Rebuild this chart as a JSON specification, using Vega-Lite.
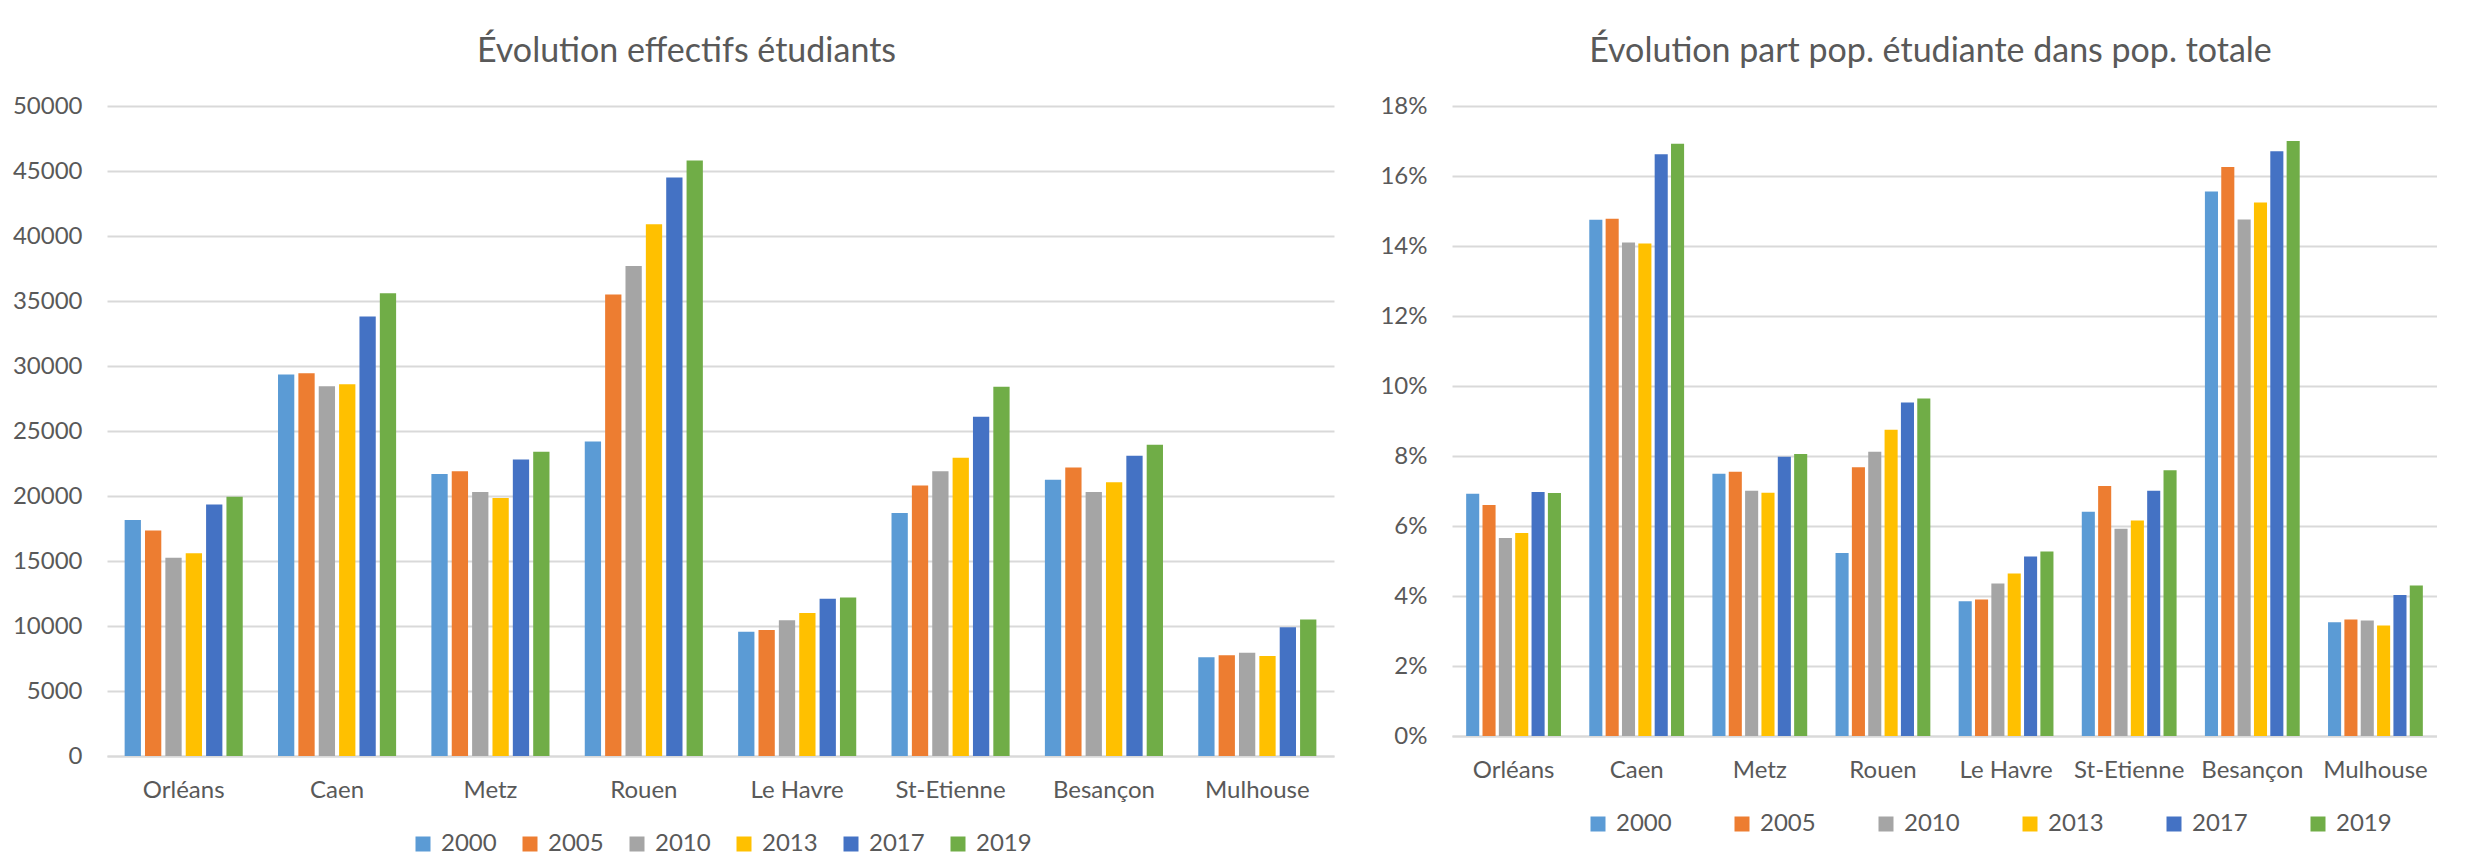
{
  "$schema": "https://vega.github.io/schema/vega-lite/v6.json",
  "padding": {"left": 12, "top": 35, "right": 0, "bottom": 0},
  "background": "white",
  "spacing": 45,
  "config": {
    "font": "Lato",
    "view": {"stroke": null},
    "axis": {"labelFont": "Lato", "labelFontSize": 24, "labelColor": "#595959", "ticks": false, "domain": false, "gridColor": "#D9D9D9", "gridWidth": 2, "title": null},
    "axisX": {"domain": true, "domainColor": "#D9D9D9", "domainWidth": 2, "grid": false, "labelAngle": 0, "labelPadding": 22},
    "axisY": {"labelPadding": 25},
    "title": {"font": "Lato", "fontSize": 34, "fontWeight": "normal", "color": "#595959", "anchor": "middle", "offset": 25},
    "legend": {"symbolType": "square", "symbolSize": 225, "symbolStrokeWidth": 0, "labelFont": "Lato", "labelFontSize": 24, "labelColor": "#595959", "labelOffset": 6, "padding": 0, "title": null}
  },
  "data": {"values": [
    {"ville": "Orléans", "annee": "2000", "effectif": 18150, "part": 0.0692},
    {"ville": "Orléans", "annee": "2005", "effectif": 17350, "part": 0.0660},
    {"ville": "Orléans", "annee": "2010", "effectif": 15250, "part": 0.0566},
    {"ville": "Orléans", "annee": "2013", "effectif": 15600, "part": 0.0580},
    {"ville": "Orléans", "annee": "2017", "effectif": 19350, "part": 0.0697},
    {"ville": "Orléans", "annee": "2019", "effectif": 19950, "part": 0.0694},
    {"ville": "Caen", "annee": "2000", "effectif": 29350, "part": 0.1475},
    {"ville": "Caen", "annee": "2005", "effectif": 29450, "part": 0.1478},
    {"ville": "Caen", "annee": "2010", "effectif": 28450, "part": 0.1410},
    {"ville": "Caen", "annee": "2013", "effectif": 28600, "part": 0.1407},
    {"ville": "Caen", "annee": "2017", "effectif": 33800, "part": 0.1662},
    {"ville": "Caen", "annee": "2019", "effectif": 35600, "part": 0.1692},
    {"ville": "Metz", "annee": "2000", "effectif": 21700, "part": 0.0749},
    {"ville": "Metz", "annee": "2005", "effectif": 21900, "part": 0.0755},
    {"ville": "Metz", "annee": "2010", "effectif": 20300, "part": 0.0701},
    {"ville": "Metz", "annee": "2013", "effectif": 19850, "part": 0.0695},
    {"ville": "Metz", "annee": "2017", "effectif": 22800, "part": 0.0798},
    {"ville": "Metz", "annee": "2019", "effectif": 23400, "part": 0.0806},
    {"ville": "Rouen", "annee": "2000", "effectif": 24200, "part": 0.0523},
    {"ville": "Rouen", "annee": "2005", "effectif": 35500, "part": 0.0768},
    {"ville": "Rouen", "annee": "2010", "effectif": 37700, "part": 0.0812},
    {"ville": "Rouen", "annee": "2013", "effectif": 40900, "part": 0.0875},
    {"ville": "Rouen", "annee": "2017", "effectif": 44500, "part": 0.0953},
    {"ville": "Rouen", "annee": "2019", "effectif": 45800, "part": 0.0964},
    {"ville": "Le Havre", "annee": "2000", "effectif": 9550, "part": 0.0385},
    {"ville": "Le Havre", "annee": "2005", "effectif": 9700, "part": 0.0390},
    {"ville": "Le Havre", "annee": "2010", "effectif": 10450, "part": 0.0436},
    {"ville": "Le Havre", "annee": "2013", "effectif": 11000, "part": 0.0464},
    {"ville": "Le Havre", "annee": "2017", "effectif": 12100, "part": 0.0513},
    {"ville": "Le Havre", "annee": "2019", "effectif": 12200, "part": 0.0527},
    {"ville": "St-Etienne", "annee": "2000", "effectif": 18700, "part": 0.0641},
    {"ville": "St-Etienne", "annee": "2005", "effectif": 20800, "part": 0.0714},
    {"ville": "St-Etienne", "annee": "2010", "effectif": 21900, "part": 0.0592},
    {"ville": "St-Etienne", "annee": "2013", "effectif": 22950, "part": 0.0616},
    {"ville": "St-Etienne", "annee": "2017", "effectif": 26100, "part": 0.0701},
    {"ville": "St-Etienne", "annee": "2019", "effectif": 28400, "part": 0.0759},
    {"ville": "Besançon", "annee": "2000", "effectif": 21250, "part": 0.1556},
    {"ville": "Besançon", "annee": "2005", "effectif": 22200, "part": 0.1626},
    {"ville": "Besançon", "annee": "2010", "effectif": 20300, "part": 0.1476},
    {"ville": "Besançon", "annee": "2013", "effectif": 21050, "part": 0.1524},
    {"ville": "Besançon", "annee": "2017", "effectif": 23100, "part": 0.1671},
    {"ville": "Besançon", "annee": "2019", "effectif": 23950, "part": 0.1700},
    {"ville": "Mulhouse", "annee": "2000", "effectif": 7600, "part": 0.0325},
    {"ville": "Mulhouse", "annee": "2005", "effectif": 7750, "part": 0.0333},
    {"ville": "Mulhouse", "annee": "2010", "effectif": 7950, "part": 0.0330},
    {"ville": "Mulhouse", "annee": "2013", "effectif": 7700, "part": 0.0316},
    {"ville": "Mulhouse", "annee": "2017", "effectif": 9900, "part": 0.0403},
    {"ville": "Mulhouse", "annee": "2019", "effectif": 10500, "part": 0.0430}
  ]},
  "resolve": {"scale": {"color": "independent", "y": "independent", "x": "independent", "xOffset": "independent"}, "legend": {"color": "independent"}},
  "hconcat": [
    {
      "width": 1227,
      "height": 650,
      "title": {"text": "Évolution effectifs étudiants", "dx": -34},
      "mark": {"type": "bar"},
      "encoding": {
        "x": {"field": "ville", "type": "nominal", "sort": ["Orléans", "Caen", "Metz", "Rouen", "Le Havre", "St-Etienne", "Besançon", "Mulhouse"], "scale": {"paddingInner": 0.23, "paddingOuter": 0.115}},
        "xOffset": {"field": "annee", "type": "nominal", "scale": {"paddingInner": 0.2}},
        "y": {"field": "effectif", "type": "quantitative", "scale": {"domain": [0, 50000]}, "axis": {"values": [0, 5000, 10000, 15000, 20000, 25000, 30000, 35000, 40000, 45000, 50000], "format": "d"}},
        "color": {"field": "annee", "type": "nominal", "scale": {"domain": ["2000", "2005", "2010", "2013", "2017", "2019"], "range": ["#5B9BD5", "#ED7D31", "#A5A5A5", "#FFC000", "#4472C4", "#70AD47"]}, "legend": {"orient": "none", "legendX": 304, "legendY": 726, "direction": "horizontal", "columns": 6, "columnPadding": 21}}
      }
    },
    {
      "width": 985,
      "height": 630,
      "title": {"text": "Évolution part pop. étudiante dans pop. totale", "dx": -14},
      "mark": {"type": "bar"},
      "encoding": {
        "x": {"field": "ville", "type": "nominal", "sort": ["Orléans", "Caen", "Metz", "Rouen", "Le Havre", "St-Etienne", "Besançon", "Mulhouse"], "scale": {"paddingInner": 0.23, "paddingOuter": 0.115}},
        "xOffset": {"field": "annee", "type": "nominal", "scale": {"paddingInner": 0.2}},
        "y": {"field": "part", "type": "quantitative", "scale": {"domain": [0, 0.18]}, "axis": {"values": [0, 0.02, 0.04, 0.06, 0.08, 0.1, 0.12, 0.14, 0.16, 0.18], "format": ".0%"}},
        "color": {"field": "annee", "type": "nominal", "scale": {"domain": ["2000", "2005", "2010", "2013", "2017", "2019"], "range": ["#5B9BD5", "#ED7D31", "#A5A5A5", "#FFC000", "#4472C4", "#70AD47"]}, "legend": {"orient": "none", "legendX": 134, "legendY": 706, "direction": "horizontal", "columns": 6, "columnPadding": 58}}
      }
    }
  ]
}
